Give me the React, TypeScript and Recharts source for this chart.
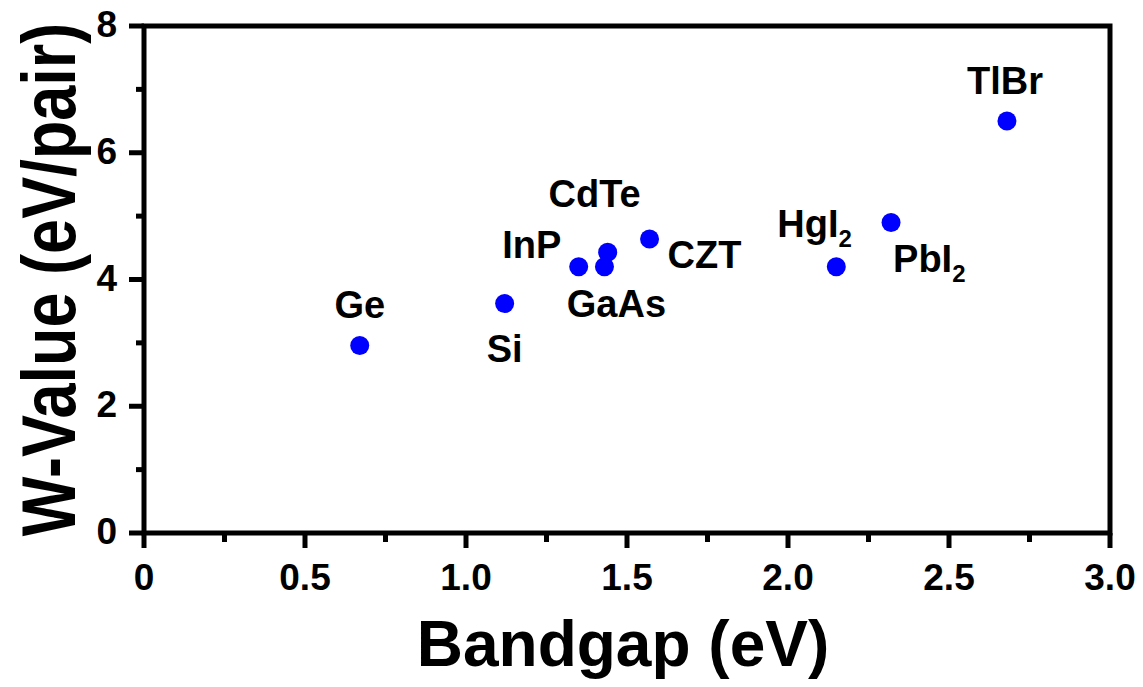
import { ScatterChart, Scatter, XAxis, YAxis, ReferenceArea } from "recharts";

// Semiconductor detector materials: bandgap vs. W-value (energy per e-h pair)
const materials = ["Ge", "Si", "InP", "GaAs", "CdTe", "CZT", "HgI2", "PbI2", "TlBr"];
const bandgapEv = [0.67, 1.12, 1.35, 1.43, 1.44, 1.57, 2.15, 2.32, 2.68];
const wValueEv = [2.96, 3.62, 4.2, 4.2, 4.43, 4.64, 4.2, 4.9, 6.5];

const xTicks = [0, 0.25, 0.5, 0.75, 1, 1.25, 1.5, 1.75, 2, 2.25, 2.5, 2.75, 3];
const yTicks = [0, 1, 2, 3, 4, 5, 6, 7, 8];

const data = materials.map((name, i) => ({ name, bandgap: bandgapEv[i], w: wValueEv[i] }));

const FONT = "Arial, 'Liberation Sans', sans-serif";
const DOT = "#0000ff";

// where each material's name sits relative to its dot
const labelPlacement: Record<string, { dx: number; dy: number; anchor: "start" | "middle" }> = {
  Ge: { dx: 0, dy: -27, anchor: "middle" },
  Si: { dx: 0, dy: 58, anchor: "middle" },
  InP: { dx: -47, dy: -9, anchor: "middle" },
  GaAs: { dx: 12, dy: 50, anchor: "middle" },
  CdTe: { dx: -13, dy: -45, anchor: "middle" },
  CZT: { dx: 55, dy: 29, anchor: "middle" },
  HgI2: { dx: -59, dy: -30, anchor: "start" },
  PbI2: { dx: 2, dy: 50, anchor: "start" },
  TlBr: { dx: -2, dy: -27, anchor: "middle" },
};

function formulaText(name: string) {
  // trailing "2" is a subscript (HgI2, PbI2)
  if (name.endsWith("2")) {
    return (
      <>
        {name.slice(0, -1)}
        <tspan fontSize={24} dy={10}>2</tspan>
      </>
    );
  }
  return name;
}

function MaterialDot(props: any) {
  const { cx, cy, payload } = props;
  const p = labelPlacement[payload.name] ?? { dx: 0, dy: -27, anchor: "middle" };
  return (
    <g>
      <circle cx={cx} cy={cy} r={9.5} fill={DOT} />
      <text
        x={cx + p.dx}
        y={cy + p.dy}
        textAnchor={p.anchor}
        fontFamily={FONT}
        fontWeight="bold"
        fontSize={38}
        fill="#000"
      >
        {formulaText(payload.name)}
      </text>
    </g>
  );
}

function BottomTick(props: any) {
  const { x, y, payload } = props;
  const v: number = payload.value;
  const major = Math.abs(v * 2 - Math.round(v * 2)) < 1e-6;
  return (
    <g>
      <line x1={x} y1={y} x2={x} y2={y + (major ? 15 : 9)} stroke="#000" strokeWidth={5} />
      {major && (
        <text x={x} y={y + 57} textAnchor="middle" fontFamily={FONT} fontWeight="bold" fontSize={37} fill="#000">
          {v === 0 ? "0" : v.toFixed(1)}
        </text>
      )}
    </g>
  );
}

function LeftTick(props: any) {
  const { x, y, payload } = props;
  const v: number = payload.value;
  const major = v % 2 === 0;
  return (
    <g>
      <line x1={x} y1={y} x2={x - (major ? 15 : 8)} y2={y} stroke="#000" strokeWidth={5} />
      {major && (
        <text x={x - 27} y={y + 11} textAnchor="end" fontFamily={FONT} fontWeight="bold" fontSize={37} fill="#000">
          {v}
        </text>
      )}
    </g>
  );
}

export default function App() {
  return (
    <div style={{ position: "absolute", left: 0, top: 0, background: "#fff" }}>
      <ScatterChart width={1143} height={687} margin={{ top: 26, right: 33, bottom: 0, left: 0 }}>
        <XAxis
          type="number"
          dataKey="bandgap"
          domain={[0, 3]}
          ticks={xTicks}
          interval={0}
          height={154}
          tickSize={0}
          tickMargin={0}
          tickLine={false}
          axisLine={false}
          tick={<BottomTick />}
          label={{
            content: (p: any) => {
              const vb = p.viewBox;
              return (
                <text
                  x={vb.x + vb.width / 2 - 4}
                  y={vb.y + 133}
                  textAnchor="middle"
                  fontFamily={FONT}
                  fontWeight="bold"
                  fontSize={64}
                  fill="#000"
                >
                  Bandgap (eV)
                </text>
              );
            },
          }}
        />
        <YAxis
          type="number"
          dataKey="w"
          domain={[0, 8]}
          ticks={yTicks}
          interval={0}
          width={144}
          tickSize={0}
          tickMargin={0}
          tickLine={false}
          axisLine={false}
          tick={<LeftTick />}
          label={{
            content: (p: any) => {
              const vb = p.viewBox;
              const cy = vb.y + vb.height / 2;
              return (
                <text
                  transform={`translate(75, ${cy}) rotate(-90) scale(1, 1.2)`}
                  x={0}
                  y={0}
                  textAnchor="middle"
                  fontFamily={FONT}
                  fontWeight="bold"
                  fontSize={63}
                  fill="#000"
                >
                  W-Value (eV/pair)
                </text>
              );
            },
          }}
        />
        {/* closed frame around the plot area */}
        <ReferenceArea x1={0} x2={3} y1={0} y2={8} fill="none" stroke="#000" strokeWidth={5} />
        <Scatter data={data} fill={DOT} shape={<MaterialDot />} isAnimationActive={false} />
      </ScatterChart>
    </div>
  );
}
